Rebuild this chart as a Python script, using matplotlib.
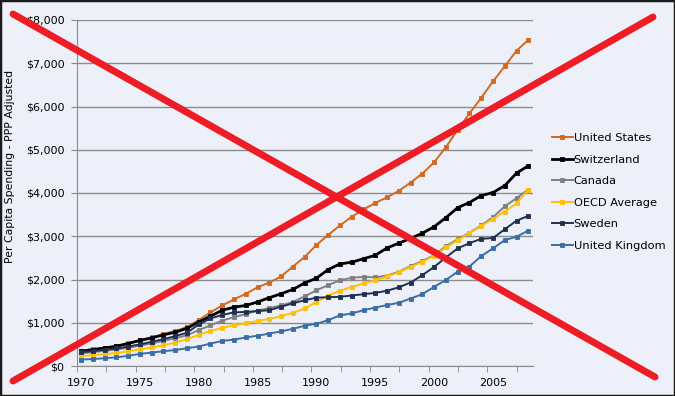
import numpy as np
import matplotlib
matplotlib.use("Agg")
import matplotlib.pyplot as plt
from matplotlib.lines import Line2D
from matplotlib.patches import Rectangle

# per capita health spending, PPP adjusted, 1970-2008
years = list(range(1970, 2009))

united_states = [355, 385, 425, 470, 525, 590, 660, 735, 810, 900,
                 1060, 1240, 1400, 1540, 1670, 1820, 1930, 2070, 2300, 2520,
                 2800, 3030, 3250, 3450, 3620, 3770, 3900, 4050, 4240, 4450,
                 4710, 5060, 5460, 5840, 6200, 6580, 6930, 7290, 7540]
switzerland = [340, 380, 415, 455, 520, 590, 650, 720, 780, 870,
               1020, 1150, 1290, 1360, 1400, 1480, 1580, 1670, 1770, 1920,
               2030, 2230, 2360, 2400, 2480, 2560, 2730, 2840, 2950, 3070,
               3220, 3430, 3660, 3780, 3940, 4010, 4170, 4460, 4630]
canada = [290, 320, 350, 380, 420, 470, 520, 580, 640, 710,
          830, 940, 1050, 1130, 1200, 1280, 1340, 1400, 1480, 1610,
          1750, 1870, 1980, 2040, 2060, 2050, 2090, 2180, 2310, 2430,
          2560, 2770, 2930, 3080, 3250, 3440, 3690, 3880, 4080]
oecd_average = [230, 250, 275, 300, 340, 385, 430, 480, 540, 620,
                720, 810, 880, 940, 990, 1040, 1090, 1150, 1230, 1330,
                1480, 1630, 1740, 1830, 1910, 1980, 2070, 2170, 2290, 2410,
                2550, 2740, 2910, 3070, 3240, 3400, 3570, 3760, 4080]
sweden = [320, 345, 375, 405, 450, 500, 560, 620, 690, 770,
          960, 1100, 1180, 1240, 1250, 1270, 1290, 1370, 1450, 1520,
          1580, 1590, 1600, 1630, 1660, 1690, 1740, 1820, 1930, 2100,
          2290, 2510, 2720, 2840, 2940, 2960, 3160, 3360, 3470]
united_kingdom = [150, 160, 180, 200, 235, 280, 310, 340, 370, 410,
                  450, 520, 580, 610, 660, 700, 750, 800, 860, 930,
                  975, 1060, 1170, 1215, 1290, 1350, 1410, 1460, 1560, 1660,
                  1830, 1990, 2180, 2300, 2540, 2720, 2910, 2990, 3130]

series_names = ["United States", "Switzerland", "Canada", "OECD Average",
                "Sweden", "United Kingdom"]
series_colors = ["#D2691E", "#000000", "#808080", "#FFC000", "#1F3050", "#3A6EA5"]

bg = "#EEF0F9"
fig = plt.figure(figsize=(6.75, 3.96), dpi=100, facecolor=bg)
ax = fig.add_axes([77 / 675, 1 - 366 / 396, (533 - 77) / 675, (366 - 20) / 396])
ax.set_facecolor(bg)

all_series = [united_states, switzerland, canada, oecd_average, sweden, united_kingdom]
for vals, name, col in zip(all_series, series_names, series_colors):
    lw = 2.0 if name == "Switzerland" else 1.4
    ax.plot(years, vals, color=col, lw=lw, marker="s", ms=3.2,
            markeredgewidth=0.6, label=name)

ax.set_xlim(1969.7, 2008.4)
ax.set_ylim(0, 8000)
ax.set_yticks(range(0, 8001, 1000))
ax.set_yticklabels(["$0"] + ["${:,}".format(v) for v in range(1000, 8001, 1000)])
ax.yaxis.grid(True, color="#8C8C8C", lw=1.0)
ax.set_axisbelow(True)

ax.set_xticks(range(1970, 2006, 5))
ax.set_xticks(np.arange(1969.66, 2008.5, 2.49), minor=True)
ax.tick_params(axis="x", which="major", length=0, pad=9, labelsize=8)
ax.tick_params(axis="x", which="minor", length=4, color="#8C8C8C", direction="out")
ax.tick_params(axis="y", length=4, color="#8C8C8C", pad=5, labelsize=8)

for s in ["top", "right"]:
    ax.spines[s].set_visible(False)
for s in ["left", "bottom"]:
    ax.spines[s].set_color("#8C8C8C")

fig.text(10 / 675, 1 - 166 / 396, "Per Capita Spending - PPP Adjusted",
         rotation=90, ha="center", va="center", fontsize=7.8)

handles, labels = ax.get_legend_handles_labels()
fig.legend(handles, labels, loc="upper left",
           bbox_to_anchor=(552 / 675, 1 - 133 / 396), frameon=False,
           fontsize=8.2, handlelength=1.8, handletextpad=0.1,
           labelspacing=1.02, borderpad=0, borderaxespad=0)

# big red X over the chart
red = "#EE1C24"
fig.add_artist(Line2D([13 / 675, 655 / 675], [1 - 14 / 396, 1 - 377 / 396],
                      color=red, lw=5, solid_capstyle="round",
                      transform=fig.transFigure))
fig.add_artist(Line2D([13 / 675, 653 / 675], [1 - 381 / 396, 1 - 17 / 396],
                      color=red, lw=5, solid_capstyle="round",
                      transform=fig.transFigure))

fig.add_artist(Rectangle((0, 0), 1, 1, transform=fig.transFigure,
                         fill=False, edgecolor="#1A1A1A", lw=2.5))

fig.savefig("out.png", dpi=100, facecolor=bg)
